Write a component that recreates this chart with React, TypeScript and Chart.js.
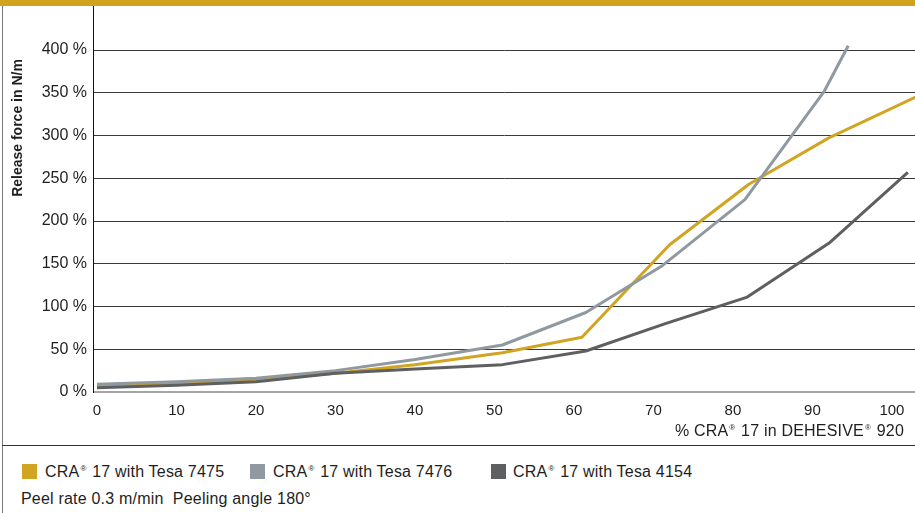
import React, { useEffect, useRef } from "react";
import { Chart, registerables } from "chart.js";

Chart.register(...registerables);

const xTickValues = [0, 10, 20, 30, 40, 50, 60, 70, 80, 90, 100];
const yTickValues = [0, 50, 100, 150, 200, 250, 300, 350, 400];

const seriesNames = ["CRA® 17 with Tesa 7475", "CRA® 17 with Tesa 7476", "CRA® 17 with Tesa 4154"];
const seriesColors = ["#D1A422", "#8F999F", "#5E5F61"];

const tesa7475X = [0, 10, 20, 30, 40, 51, 61, 72, 82, 92, 103];
const tesa7475Y = [7, 10, 14, 22, 32, 46, 64, 172, 243, 297, 345];

const tesa7476X = [0, 10, 20, 30, 40, 51, 61.5, 71, 81.5, 91.5, 94.5];
const tesa7476Y = [9, 12, 16, 25, 38, 55, 93, 147, 225, 352, 405];

const tesa4154X = [0, 10, 20, 30, 40, 51, 61.5, 71.5, 81.8, 92.2, 102];
const tesa4154Y = [5, 8, 12, 22, 27, 32, 48, 80, 111, 175, 257];

const FONT = "'Liberation Sans', Arial, Helvetica, sans-serif";
const TEXT = "#1e1e1e";

function toPoints(xs: number[], ys: number[]) {
  return xs.map((x, i) => ({ x, y: ys[i] }));
}

function Reg() {
  return <span style={{ fontSize: "8px", position: "relative", top: "-6px", margin: "0 1px" }}>®</span>;
}

function zeroPad(s: any) {
  s.paddingTop = 0;
  s.paddingBottom = 0;
  s.paddingLeft = 0;
  s.paddingRight = 0;
}

export default function App() {
  const canvasRef = useRef<HTMLCanvasElement | null>(null);

  useEffect(() => {
    if (!canvasRef.current) return;
    const chart = new Chart(canvasRef.current, {
      type: "line",
      data: {
        datasets: [
          { label: seriesNames[0], data: toPoints(tesa7475X, tesa7475Y), borderColor: seriesColors[0], order: 2 },
          { label: seriesNames[1], data: toPoints(tesa7476X, tesa7476Y), borderColor: seriesColors[1], order: 1 },
          { label: seriesNames[2], data: toPoints(tesa4154X, tesa4154Y), borderColor: seriesColors[2], order: 0 },
        ].map((d) => ({
          ...d,
          borderWidth: 3,
          pointRadius: 0,
          tension: 0,
          fill: false,
          borderJoinStyle: "round" as const,
        })),
      },
      options: {
        animation: false,
        responsive: false,
        maintainAspectRatio: false,
        layout: { padding: 0 },
        plugins: { legend: { display: false }, tooltip: { enabled: false } },
        scales: {
          x: {
            type: "linear",
            min: -0.5,
            max: 102.9,
            grid: { display: false, drawTicks: true, tickLength: 8 },
            border: { display: false },
            ticks: {
              font: { family: FONT, size: 15 },
              color: TEXT,
              padding: 2,
            },
            afterBuildTicks: (s: any) => {
              s.ticks = xTickValues.map((v) => ({ value: v }));
            },
            afterFit: (s: any) => {
              s.height = 53;
              zeroPad(s);
            },
          },
          y: {
            type: "linear",
            min: 0,
            max: 451.5,
            grid: {
              drawTicks: false,
              color: (ctx: any) => (ctx.tick && ctx.tick.value === 0 ? "#a5a5a5" : "#3a3a3a"),
              lineWidth: (ctx: any) => (ctx.tick && ctx.tick.value === 0 ? 2 : 1),
            },
            border: { display: true, color: "#111", width: 1 },
            ticks: {
              font: { family: FONT, size: 16 },
              color: TEXT,
              padding: 6,
              callback: (v: any) => v + " %",
            },
            afterBuildTicks: (s: any) => {
              s.ticks = yTickValues.map((v) => ({ value: v }));
            },
            afterFit: (s: any) => {
              s.width = 93;
              zeroPad(s);
            },
          },
        },
      },
    } as any);
    return () => chart.destroy();
  }, []);

  const legendLefts = [22, 250, 491];
  const textLefts = [45, 273, 513];

  return (
    <div
      style={{
        position: "fixed",
        left: 0,
        top: 0,
        width: 915,
        height: 513,
        background: "#fff",
        fontFamily: FONT,
        color: TEXT,
        overflow: "hidden",
      }}
    >
      <div style={{ position: "absolute", left: 0, top: 0, width: 915, height: 6, background: "#CFA220" }} />
      <div style={{ position: "absolute", left: 2, top: 6, width: 1, height: 507, background: "#777" }} />
      <canvas
        ref={canvasRef}
        width={915}
        height={439}
        style={{ position: "absolute", left: 0, top: 6, width: 915, height: 439 }}
      />
      <div
        style={{
          position: "absolute",
          left: 17,
          top: 128,
          transform: "translate(-50%, -50%) rotate(-90deg)",
          whiteSpace: "nowrap",
          fontSize: "14px",
          fontWeight: "bold",
          lineHeight: "16px",
        }}
      >
        Release force in N/m
      </div>
      <div
        style={{
          position: "absolute",
          right: 11,
          top: 423,
          whiteSpace: "nowrap",
          fontSize: "16px",
          letterSpacing: "0.2px",
          lineHeight: "16px",
        }}
      >
        % CRA<Reg /> 17 in DEHESIVE<Reg /> 920
      </div>
      <div style={{ position: "absolute", left: 2, top: 445, width: 913, height: 1, background: "#333" }} />
      {seriesNames.map((name, i) => (
        <React.Fragment key={name}>
          <div
            style={{
              position: "absolute",
              left: legendLefts[i],
              top: 464,
              width: 15,
              height: 15,
              background: seriesColors[i],
            }}
          />
          <div
            style={{
              position: "absolute",
              left: textLefts[i],
              top: 463,
              whiteSpace: "nowrap",
              fontSize: "16px",
              letterSpacing: "0.2px",
              lineHeight: "17px",
            }}
          >
            CRA<Reg /> 17 with Tesa {name.slice(-4)}
          </div>
        </React.Fragment>
      ))}
      <div
        style={{
          position: "absolute",
          left: 21,
          top: 490,
          whiteSpace: "nowrap",
          fontSize: "16px",
          letterSpacing: "0.2px",
          lineHeight: "17px",
        }}
      >
        Peel rate 0.3 m/min&nbsp;&nbsp;Peeling angle 180°
      </div>
    </div>
  );
}
